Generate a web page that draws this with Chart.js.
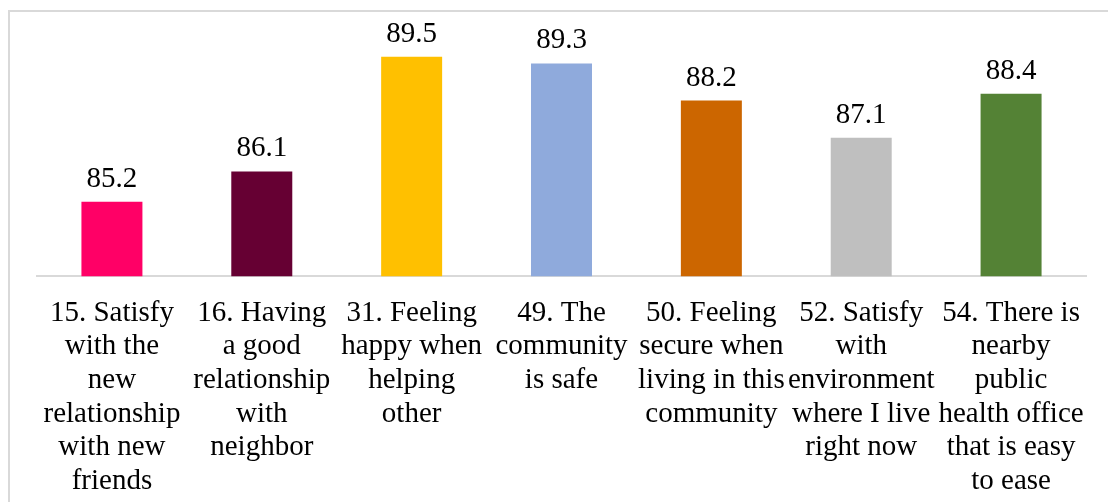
<!DOCTYPE html>
<html>
<head>
<meta charset="utf-8">
<script src="https://cdn.jsdelivr.net/npm/chart.js@4/dist/chart.umd.min.js"></script>
<style>
  html, body { margin: 0; padding: 0; background: #fff; overflow: hidden; }
  #wrap { position: relative; width: 1108px; height: 502px; overflow: hidden; }
  #frame {
    position: absolute; left: 8px; top: 10px; right: 0; bottom: 0;
    border-left: 2px solid #d9d9d9; border-top: 2px solid #d9d9d9;
    pointer-events: none;
  }
</style>
</head>
<body>
<div id="wrap">
  <canvas id="barChart" width="1108" height="522"></canvas>
  <div id="frame"></div>
</div>
<script>
const categories = [
  ["15. Satisfy", "with the", "new", "relationship", "with new", "friends"],
  ["16. Having", "a good", "relationship", "with", "neighbor"],
  ["31. Feeling", "happy when", "helping", "other"],
  ["49. The", "community", "is safe"],
  ["50. Feeling", "secure when", "living in this", "community"],
  ["52. Satisfy", "with", "environment", "where I live", "right now"],
  ["54. There is", "nearby", "public", "health office", "that is easy", "to ease"]
];
const scores = [85.2, 86.1, 89.5, 89.3, 88.2, 87.1, 88.4];
const barColors = ["#ff0066", "#660033", "#ffc000", "#8faadc", "#cc6600", "#bfbfbf", "#548235"];

const serif = "'Liberation Serif', 'Times New Roman', serif";

// value printed above each bar
const valueLabels = {
  id: 'valueLabels',
  afterDatasetsDraw(chart) {
    const ctx = chart.ctx;
    const meta = chart.getDatasetMeta(0);
    ctx.save();
    ctx.font = "29px " + serif;
    ctx.fillStyle = "#000";
    ctx.textAlign = "center";
    ctx.textBaseline = "alphabetic";
    meta.data.forEach((bar, i) => {
      ctx.fillText(scores[i].toFixed(1), bar.x, bar.y - 15);
    });
    ctx.restore();
  }
};

const ctx = document.getElementById('barChart').getContext('2d');
new Chart(ctx, {
  type: 'bar',
  data: {
    labels: categories,
    datasets: [{
      data: scores,
      backgroundColor: barColors,
      borderWidth: 0,
      categoryPercentage: 1,
      barPercentage: 0.407
    }]
  },
  options: {
    responsive: false,
    animation: false,
    layout: { padding: { left: 37, right: 22, top: 6, bottom: 4 } },
    plugins: { legend: { display: false }, tooltip: { enabled: false } },
    scales: {
      x: {
        grid: { display: false, drawTicks: false },
        border: { display: true, color: "#d9d9d9", width: 2 },
        ticks: {
          autoSkip: false,
          maxRotation: 0,
          padding: 20,
          color: "#000",
          font: { family: serif, size: 29, lineHeight: 1.16 }
        }
      },
      y: {
        display: false,
        min: 83,
        max: 91
      }
    }
  },
  plugins: [valueLabels]
});
</script>
</body>
</html>
